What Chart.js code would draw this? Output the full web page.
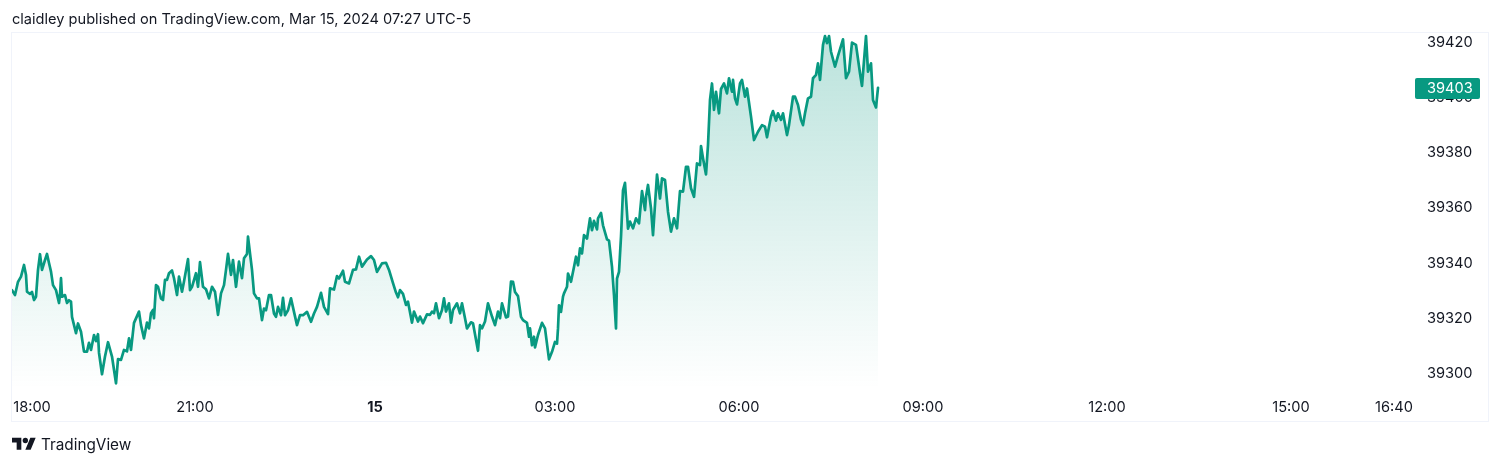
<!DOCTYPE html>
<html>
<head>
<meta charset="utf-8">
<title>TradingView snapshot</title>
<script src="https://cdn.jsdelivr.net/npm/chart.js@4/dist/chart.umd.min.js"></script>
<style>
    html, body { margin: 0; padding: 0; background: #fff; overflow: hidden; }
    body { width: 1500px; height: 465px; position: relative; font-family: Inter, sans-serif; color: #131722; }
    #chart { position: absolute; left: 0; top: 0; }
    #byline { position: absolute; left: 12px; top: 10px; font-size: 14.6px; line-height: 18px; white-space: nowrap; }
    #brand { position: absolute; left: 12px; top: 434px; height: 20px; display: flex; align-items: center; font-size: 15.3px; }
    #brand svg { width: 24px; height: 19px; margin-right: 5px; fill: #131722; }
</style>
</head>
<body>
<canvas id="chart" width="1500" height="465"></canvas>
<div id="byline">claidley published on TradingView.com, Mar 15, 2024 07:27 UTC-5</div>
<div id="brand">
    <svg viewBox="0 0 36 28"><path d="M14 22H7V11H0V4h14v18zM28 22h-8l7.5-18h8L28 22z"></path><circle cx="20" cy="8" r="4"></circle></svg>
    TradingView
</div>
<script>
// bar number along the time axis
const bars = [
    0, 3, 6, 9, 12, 14, 15, 18, 20, 22, 24, 26, 28, 30, 33, 35, 37, 39, 41, 44, 47, 48, 49, 50, 53, 55, 57, 59, 60, 64, 66, 69,
    72, 75, 77, 79, 82, 84, 86, 87, 90, 93, 96, 100, 104, 106, 109, 112, 115, 117, 119, 122,
    127, 129, 132, 135, 137, 139, 141, 142, 144, 146, 149, 151, 153, 155, 157, 160, 162, 165, 167, 170, 172, 176, 178, 180, 184, 186, 188,
    191, 194, 197, 200, 203, 206, 209, 212, 214, 216, 219, 221, 224, 227, 230, 232, 235, 236, 238, 240, 242, 245, 247,
    250, 252, 254, 257, 259, 262, 264, 266, 269, 271, 273, 276, 279, 282, 285, 288, 291, 295, 299, 302, 305, 309, 312, 316, 318,
    322, 325, 327, 331, 333, 337, 341, 344, 347, 350, 355, 359, 362, 365, 370, 374, 377,
    381, 384, 386, 388, 391, 394, 396, 400, 402, 406, 408, 411, 415, 418, 420, 422, 424, 427, 430, 432, 434, 437, 439, 441, 445,
    448, 450, 453, 455, 459, 461, 466, 468, 470, 473, 476, 480, 483, 486, 488, 490, 494, 496, 499,
    501, 503, 506, 509, 511, 515, 517, 518, 520, 522, 523, 526, 530, 533, 537, 540, 543, 545, 546, 547, 549, 551, 552, 555, 556,
    559, 562, 564, 566, 568, 570, 572, 575, 578, 580, 582, 585, 586, 589, 591, 595, 597, 600, 602, 604, 605, 607, 609, 611, 613, 616, 618,
    621, 624, 627, 630, 633, 634, 636, 639, 641, 645, 648, 650, 653, 656, 659, 662, 665, 668, 671, 674, 676, 679, 682, 685, 688, 689, 691,
    694, 696, 698, 700, 702, 704, 707, 709, 712, 715, 717, 720, 721, 723, 725, 728, 730, 733, 735, 739, 742,
    746, 750, 753, 755, 759, 761, 764, 766, 769, 771, 775, 777, 781, 783, 786, 789, 791, 793, 796, 799, 801, 804, 806, 808,
    811, 813, 815, 817, 819, 823, 826, 831, 834, 837, 840, 844, 848, 850, 854, 856, 859, 861, 864, 866
];
// last traded price at each of those bars
const prices = [
    39329.7, 39327.9, 39332.7, 39334.6, 39338.8, 39335.2, 39329.1, 39328.3, 39329, 39326.1, 39327.3, 39337, 39342.7, 39337, 39340.6, 39342.8, 39339.5, 39336.4, 39331.5, 39329.7, 39325, 39328, 39334, 39327.3, 39327.9, 39325, 39326, 39325.5, 39320, 39314.1, 39317.6, 39314.6,
    39307.4, 39307.4, 39310.6, 39308, 39313.4, 39311.2, 39313.7, 39307, 39299.2, 39305.6, 39310.8, 39305.6, 39295.9, 39304.7, 39304.4, 39308, 39307.5, 39312.2, 39308, 39317.8,
    39321.9, 39317, 39312.2, 39317.9, 39315.8, 39321.3, 39322.5, 39319.5, 39331.5, 39330.9, 39326.7, 39326.1, 39333.4, 39333.4, 39335.8, 39336.8, 39334, 39327.9, 39334.6, 39329.1, 39332.8, 39340.9, 39329.7, 39330.9, 39335.8, 39330.9, 39339.8,
    39330.9, 39330, 39326.7, 39330.9, 39329.1, 39320.7, 39328.5, 39331.5, 39337, 39342.8, 39335.2, 39340.6, 39330.9, 39340, 39334, 39341.2, 39342.8, 39349.1, 39343, 39337, 39328.5, 39326.7, 39326.7,
    39318.8, 39323, 39322.4, 39327.9, 39327.9, 39321.2, 39320, 39323.6, 39320.6, 39326.9, 39320.6, 39322.4, 39326.7, 39321.8, 39317, 39320.6, 39320.6, 39321.8, 39318.2, 39321.2, 39323.6, 39328.7, 39323.6, 39321, 39330.3,
    39329.9, 39334.8, 39333.9, 39336.7, 39332.7, 39332.1, 39337, 39337.2, 39341.8, 39338.2, 39340.8, 39342, 39340.6, 39336.3, 39339.4, 39339.6, 39337,
    39332.2, 39328.8, 39327.1, 39329.7, 39328.3, 39324.3, 39325.5, 39317.9, 39321.9, 39318.3, 39320.1, 39317.7, 39320.9, 39320.7, 39321.9, 39321.3, 39324.9, 39319.5, 39322.5, 39326.7, 39321.9, 39324.9, 39317.9, 39322.5, 39324.9,
    39321.3, 39324.9, 39319.5, 39315.8, 39318, 39317.7, 39307.7, 39317, 39315.8, 39318.3, 39324.9, 39320.1, 39317, 39321.9, 39319.5, 39324.9, 39319.8, 39320.1, 39332.8,
    39332.7, 39329, 39327.5, 39320, 39318.8, 39317.8, 39312.8, 39315.8, 39309.7, 39312.8, 39308.9, 39313.4, 39317.8, 39315.8, 39304.6, 39307.3, 39310.9, 39310.3, 39315.8, 39324.2, 39321.8, 39327.3, 39328.5, 39330.9, 39335.7,
    39332.7, 39338.1, 39341.8, 39338.7, 39344.8, 39343, 39349.6, 39348.4, 39355.7, 39351.4, 39354.8, 39351.7, 39355.7, 39357.7, 39353.2, 39348.1, 39347.6, 39338.1, 39327.9, 39315.8, 39333.9, 39336.3, 39349, 39365.9, 39368.6, 39352, 39354.5,
    39352.1, 39355.7, 39353.9, 39365.6, 39358.7, 39363.5, 39367.8, 39359.3, 39349.6, 39371.6, 39362.9, 39370.2, 39369.6, 39358.1, 39350.9, 39355.7, 39352.1, 39365.6, 39365.4, 39374.4, 39374.4, 39366.6, 39363.5, 39375.6, 39375, 39381.9, 39377.5,
    39371.6, 39382.3, 39398.6, 39404.6, 39395, 39401.6, 39393.8, 39402.6, 39404.6, 39401, 39406.5, 39401.6, 39405.9, 39399.2, 39397, 39404.6, 39405.9, 39399.8, 39402.8, 39392.6, 39384.1,
    39387.1, 39389.5, 39388.9, 39385.1, 39392.6, 39394.6, 39391.1, 39393.8, 39391.4, 39393.8, 39385.9, 39389.5, 39399.8, 39399.8, 39396.8, 39391.4, 39389.5, 39393.8, 39399.2, 39399.8, 39406.5, 39407.7, 39411.9, 39405.9,
    39418.6, 39421.8, 39419.2, 39421.8, 39416.1, 39410.7, 39414.6, 39420.6, 39406.5, 39408.9, 39419.4, 39418.6, 39408.3, 39403.7, 39421.8, 39408.9, 39411.9, 39398.6, 39395.9, 39403
];
const timeLabels = ['18:00', '21:00', '15', '03:00', '06:00', '09:00', '12:00', '15:00', '16:40'];
const timeBars = [20, 183, 363, 543, 727, 911, 1095, 1279, 1382];
const priceTicks = [39300, 39320, 39340, 39360, 39380, 39400, 39420];
const lastPrice = 39403;

const lineColor = '#089981';
const textColor = '#131722';

// outer frame behind the chart, price tag on top of the axis
const framePlugin = {
    id: 'frame',
    beforeDraw(chart) {
        const ctx = chart.ctx;
        ctx.save();
        ctx.strokeStyle = '#f0f3fa';
        ctx.lineWidth = 1;
        ctx.strokeRect(11.5, 32.5, 1477, 389);
        ctx.restore();
    }
};
const priceTagPlugin = {
    id: 'priceTag',
    afterDraw(chart) {
        const ctx = chart.ctx;
        const y = chart.scales.y.getPixelForValue(lastPrice);
        ctx.save();
        ctx.fillStyle = lineColor;
        ctx.beginPath();
        ctx.roundRect(1415, y - 10, 65, 21, 2);
        ctx.fill();
        ctx.fillStyle = '#fff';
        ctx.font = '14.6px Inter';
        ctx.textBaseline = 'middle';
        ctx.fillText(String(lastPrice), 1427, y + 1);
        ctx.restore();
    }
};

const chart = new Chart(document.getElementById('chart'), {
    type: 'line',
    data: {
        datasets: [{
            data: bars.map((bar, i) => ({ x: bar, y: prices[i] })),
            borderColor: lineColor,
            borderWidth: 2.7,
            borderJoinStyle: 'round',
            borderCapStyle: 'round',
            pointRadius: 0,
            tension: 0,
            fill: 'start',
            backgroundColor: function (context) {
                const area = context.chart.chartArea;
                if (!area) return 'transparent';
                const gradient = context.chart.ctx.createLinearGradient(0, area.top, 0, area.bottom);
                gradient.addColorStop(0, 'rgba(8, 153, 129, 0.28)');
                gradient.addColorStop(1, 'rgba(8, 153, 129, 0)');
                return gradient;
            }
        }]
    },
    options: {
        responsive: false,
        animation: false,
        devicePixelRatio: 1,
        layout: { padding: { left: 12, top: 33, right: 12, bottom: 44 } },
        plugins: { legend: { display: false }, tooltip: { enabled: false } },
        scales: {
            x: {
                type: 'linear',
                min: 0,
                max: 1402,
                grid: { display: false, drawTicks: false },
                border: { display: false },
                afterFit: scale => { scale.height = 33; },
                afterBuildTicks: scale => { scale.ticks = timeBars.map(value => ({ value })); },
                ticks: {
                    padding: 11,
                    maxRotation: 0,
                    autoSkip: false,
                    color: textColor,
                    font: ctx => ({ family: 'Inter', size: 14.6, weight: ctx.index === 2 ? 'bold' : 'normal' }),
                    callback: (value, index) => timeLabels[index]
                }
            },
            y: {
                position: 'right',
                min: 39294.2,
                max: 39422.9,
                grid: { display: false, drawTicks: false },
                border: { display: false },
                afterFit: scale => { scale.width = 74; },
                afterBuildTicks: scale => { scale.ticks = priceTicks.map(value => ({ value })); },
                ticks: {
                    padding: 13,
                    labelOffset: 1.5,
                    color: textColor,
                    font: { family: 'Inter', size: 14.6 },
                    callback: value => String(value)
                }
            }
        }
    },
    plugins: [framePlugin, priceTagPlugin]
});
</script>
</body>
</html>
